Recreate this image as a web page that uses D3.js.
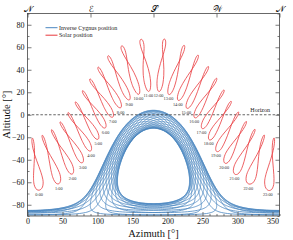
<!DOCTYPE html>
<html><head><meta charset="utf-8">
<script src="https://cdn.jsdelivr.net/npm/d3@7"></script>
<style>body{margin:0;background:#fff}svg{display:block}</style>
</head><body>
<svg id="c" width="293" height="240"></svg>
<script>
// ---------- data ----------
const hourLabels = ["0:00","1:00","2:00","3:00","4:00","5:00","6:00","7:00","8:00","9:00","10:00","11:00",
  "12:00","13:00","14:00","15:00","16:00","17:00","18:00","19:00","20:00","21:00","22:00","23:00"];
// top (summer solstice) and bottom (winter solstice) of each hourly solar loop, [deg]
const loopTopAz = [7.3,21.4,34.7,46.9,58.1,68.6,78.8,89.3,101.1,115.6,135.4,163.4,
  196.6,224.6,244.4,258.9,270.7,281.2,291.4,301.9,313.1,325.3,338.6,352.7];
const loopTopAlt = [-20.7,-18.1,-13.1,-6.2,2.1,11.6,21.6,32.0,42.5,52.6,61.4,67.1,
  67.1,61.4,52.6,42.5,32.0,21.6,11.6,2.1,-6.2,-13.1,-18.1,-20.7];
const loopBottomAz = [16.6,44.6,64.4,78.9,90.7,101.2,111.4,121.9,133.1,145.3,158.6,172.7,
  187.3,201.4,214.7,226.9,238.1,248.6,258.8,269.3,281.1,295.6,315.4,343.4];
const loopBottomAlt = [-67.1,-61.4,-52.6,-42.5,-32.0,-21.6,-11.6,-2.1,6.2,13.1,18.1,20.7,
  20.7,18.1,13.1,6.2,-2.1,-11.6,-21.6,-32.0,-42.5,-52.6,-61.4,-67.1];
// yearly solar declination [deg] and equation of time [min] (loop shape)
const analemmaDec = [-23.0,-21.2,-17.2,-14.2,-12.9,-7.8,-2.4,4.4,9.7,15.0,18.6,22.0,23.3,23.44,
  23.1,21.6,19.4,13.9,8.4,3.2,-2.9,-8.4,-15.0,-18.4,-21.7,-23.2,-23.44];
const analemmaEot = [-3.4,-9.2,-13.5,-14.2,-14.1,-12.4,-9.0,-4.0,0.0,2.9,3.7,2.2,-0.2,-1.6,
  -3.8,-5.9,-6.5,-4.4,-0.1,4.8,10.2,14.1,16.4,15.3,11.1,5.1,2.1];
// inverse Cygnus tracks (one per clock hour): centre of each track circle [deg] and its radius
const cygnusCenterAz  = [180.0,183.0,185.7,188.1,189.9,191.0,191.4,191.0,189.9,188.1,185.7,183.0,
  180.0,177.0,174.3,171.9,170.1,169.0,168.6,169.0,170.1,171.9,174.3,177.0];
const cygnusCenterAlt = [-37.5,-37.8,-38.6,-39.8,-41.5,-43.4,-45.5,-47.6,-49.5,-51.2,-52.4,-53.2,
  -53.5,-53.2,-52.4,-51.2,-49.5,-47.6,-45.5,-43.4,-41.5,-39.8,-38.6,-37.8];
const cygnusRadius = 41.5;
const xTicks = [0,50,100,150,200,250,300,350];
const yTicks = [-80,-60,-40,-20,0,20,40,60,80];
const compassAz = [0,90,180,270,360];
const compassLabels = ["\u{1D4A9}","\u2130","\u{1D4AE}","\u{1D4B2}","\u{1D4A9}"];
const seriesNames = ["Inverse Cygnus position","Solar position"];

// ---------- drawing ----------
const blue = "#4a87c0", red = "#e8383c";
const svg = d3.select("#c");
const L = 27.5, R = 279.5, T = 13.5, B = 216;
const x = d3.scaleLinear([0,360],[L,R]);
const y = d3.scaleLinear([-90,90],[B,T]);
const serif = "'Liberation Serif','Times New Roman',serif";

svg.append("defs").append("clipPath").attr("id","clip")
  .append("rect").attr("x",L).attr("y",T).attr("width",R-L).attr("height",B-T);
const plot = svg.append("g").attr("clip-path","url(#clip)");

// blue tracks: small circles on the (azimuth, altitude) sphere
const line = d3.line();
cygnusCenterAz.forEach((caz, k) => {
  let ring = d3.geoCircle().center([caz, cygnusCenterAlt[k]]).radius(cygnusRadius).precision(0.5)()
    .coordinates[0].map(([lo, la]) => [(lo + 360) % 360, la]);
  const f = ring[0], l = ring[ring.length-1];
  if (Math.abs(f[0]-l[0]) < 1e-9 && Math.abs(f[1]-l[1]) < 1e-9) ring = ring.slice(0,-1);
  const n = ring.length;
  let j = -1;
  for (let i = 0; i < n; i++) {
    const a = ring[(i-1+n)%n], q = ring[i];
    if (Math.abs(a[0]-q[0]) > 180) { j = i; break; }
  }
  let pts;
  if (j < 0) {
    pts = ring.concat([ring[0]]);
  } else {
    pts = ring.slice(j).concat(ring.slice(0,j));
    const first = pts[0], last = pts[pts.length-1];
    if (first[0] < 180) { pts.unshift([last[0]-360,last[1]]); pts.push([first[0]+360,first[1]]); }
    else { pts.unshift([last[0]+360,last[1]]); pts.push([first[0]-360,first[1]]); }
  }
  plot.append("path").attr("d", line(pts.map(p => [x(p[0]), y(p[1])])))
    .attr("fill","none").attr("stroke",blue).attr("stroke-width",0.8);
});

// horizon
plot.append("line").attr("x1",L).attr("x2",R).attr("y1",y(0)).attr("y2",y(0))
  .attr("stroke","#222").attr("stroke-width",0.7).attr("stroke-dasharray","2.5,1.8");

// solar loops
function basePt(t, v) {
  return [x(loopTopAz[t]) + v*(x(loopBottomAz[t]) - x(loopTopAz[t])),
          y(loopTopAlt[t]) + v*(y(loopBottomAlt[t]) - y(loopTopAlt[t]))];
}
const decTop = d3.max(analemmaDec), decBot = d3.min(analemmaDec);
const loopLine = d3.line().curve(d3.curveCatmullRomClosed);
hourLabels.forEach((lab, t) => {
  const pts = analemmaDec.map((dec, i) => {
    const v = (decTop - dec) / (decTop - decBot);
    const b = basePt(t, v);
    let d;
    if (t < hourLabels.length - 1) { const nb = basePt(t+1, v); d = [nb[0]-b[0], nb[1]-b[1]]; }
    else { const pb = basePt(t-1, v); d = [b[0]-pb[0], b[1]-pb[1]]; }
    const k = analemmaEot[i] / 60;
    return [b[0] + k*d[0], b[1] + k*d[1]];
  });
  plot.append("path").attr("d", loopLine(pts)).attr("fill","none")
    .attr("stroke",red).attr("stroke-width",0.8);
  svg.append("text").attr("x", x(loopBottomAz[t])).attr("y", y(loopBottomAlt[t]) + 6)
    .attr("text-anchor","middle").attr("font-family",serif).attr("font-size",4.3)
    .attr("fill","#333").text(lab);
});

svg.append("text").attr("x",270).attr("y",y(0)-3).attr("text-anchor","end")
  .attr("font-family",serif).attr("font-size",6).attr("fill","#222").text("Horizon");

// axes
const fmt = d => d < 0 ? "\u2212" + (-d) : String(d);
const minorY = d3.range(-90,91,10).filter(v => !yTicks.includes(v));
const minorX = d3.range(0,361,10).filter(v => !xTicks.includes(v));
function styleAxis(g){
  g.select(".domain").remove();
  g.selectAll("line").attr("stroke","#444").attr("stroke-width",0.7);
  g.selectAll("text").attr("font-family",serif).attr("font-size",8).attr("fill","#111");
}
svg.append("g").attr("transform",`translate(${L},0)`)
  .call(d3.axisLeft(y).tickValues(yTicks).tickSize(-4).tickPadding(3).tickFormat(fmt)).call(styleAxis);
svg.append("g").attr("transform",`translate(${L},0)`)
  .call(d3.axisLeft(y).tickValues(minorY).tickSize(-2).tickFormat("")).call(styleAxis);
svg.append("g").attr("transform",`translate(${R},0)`)
  .call(d3.axisRight(y).tickValues(yTicks).tickSize(-4).tickFormat("")).call(styleAxis);
svg.append("g").attr("transform",`translate(${R},0)`)
  .call(d3.axisRight(y).tickValues(minorY).tickSize(-2).tickFormat("")).call(styleAxis);
svg.append("g").attr("transform",`translate(0,${B})`)
  .call(d3.axisBottom(x).tickValues(xTicks).tickSize(-4).tickPadding(2).tickFormat(fmt)).call(styleAxis);
svg.append("g").attr("transform",`translate(0,${B})`)
  .call(d3.axisBottom(x).tickValues(minorX).tickSize(-2).tickFormat("")).call(styleAxis);
const topAxis = svg.append("g").attr("transform",`translate(0,${T})`)
  .call(d3.axisTop(x).tickValues(compassAz).tickSize(-4).tickPadding(2)
    .tickFormat((d,i) => compassLabels[i])).call(styleAxis);
topAxis.selectAll("text").attr("font-family","'DejaVu Serif','DejaVu Sans',serif").attr("font-size",8.5);

svg.append("rect").attr("x",L).attr("y",T).attr("width",R-L).attr("height",B-T)
  .attr("fill","none").attr("stroke","#444").attr("stroke-width",0.8);

// axis titles
svg.append("text").attr("x",(L+R)/2).attr("y",237).attr("text-anchor","middle")
  .attr("font-family",serif).attr("font-size",10.5).attr("fill","#111").text("Azimuth [°]");
svg.append("text").attr("transform",`translate(10,${y(0)}) rotate(-90)`).attr("text-anchor","middle")
  .attr("font-family",serif).attr("font-size",10.5).attr("fill","#111").text("Altitude [°]");

// legend
[blue, red].forEach((c, i) => {
  const ly = 27.7 + i*7.5;
  svg.append("line").attr("x1",45.5).attr("x2",57.5).attr("y1",ly).attr("y2",ly)
    .attr("stroke",c).attr("stroke-width",1);
  svg.append("text").attr("x",59).attr("y",ly+2).attr("font-family",serif)
    .attr("font-size",6).attr("fill","#222").text(seriesNames[i]);
});
</script>
</body></html>
